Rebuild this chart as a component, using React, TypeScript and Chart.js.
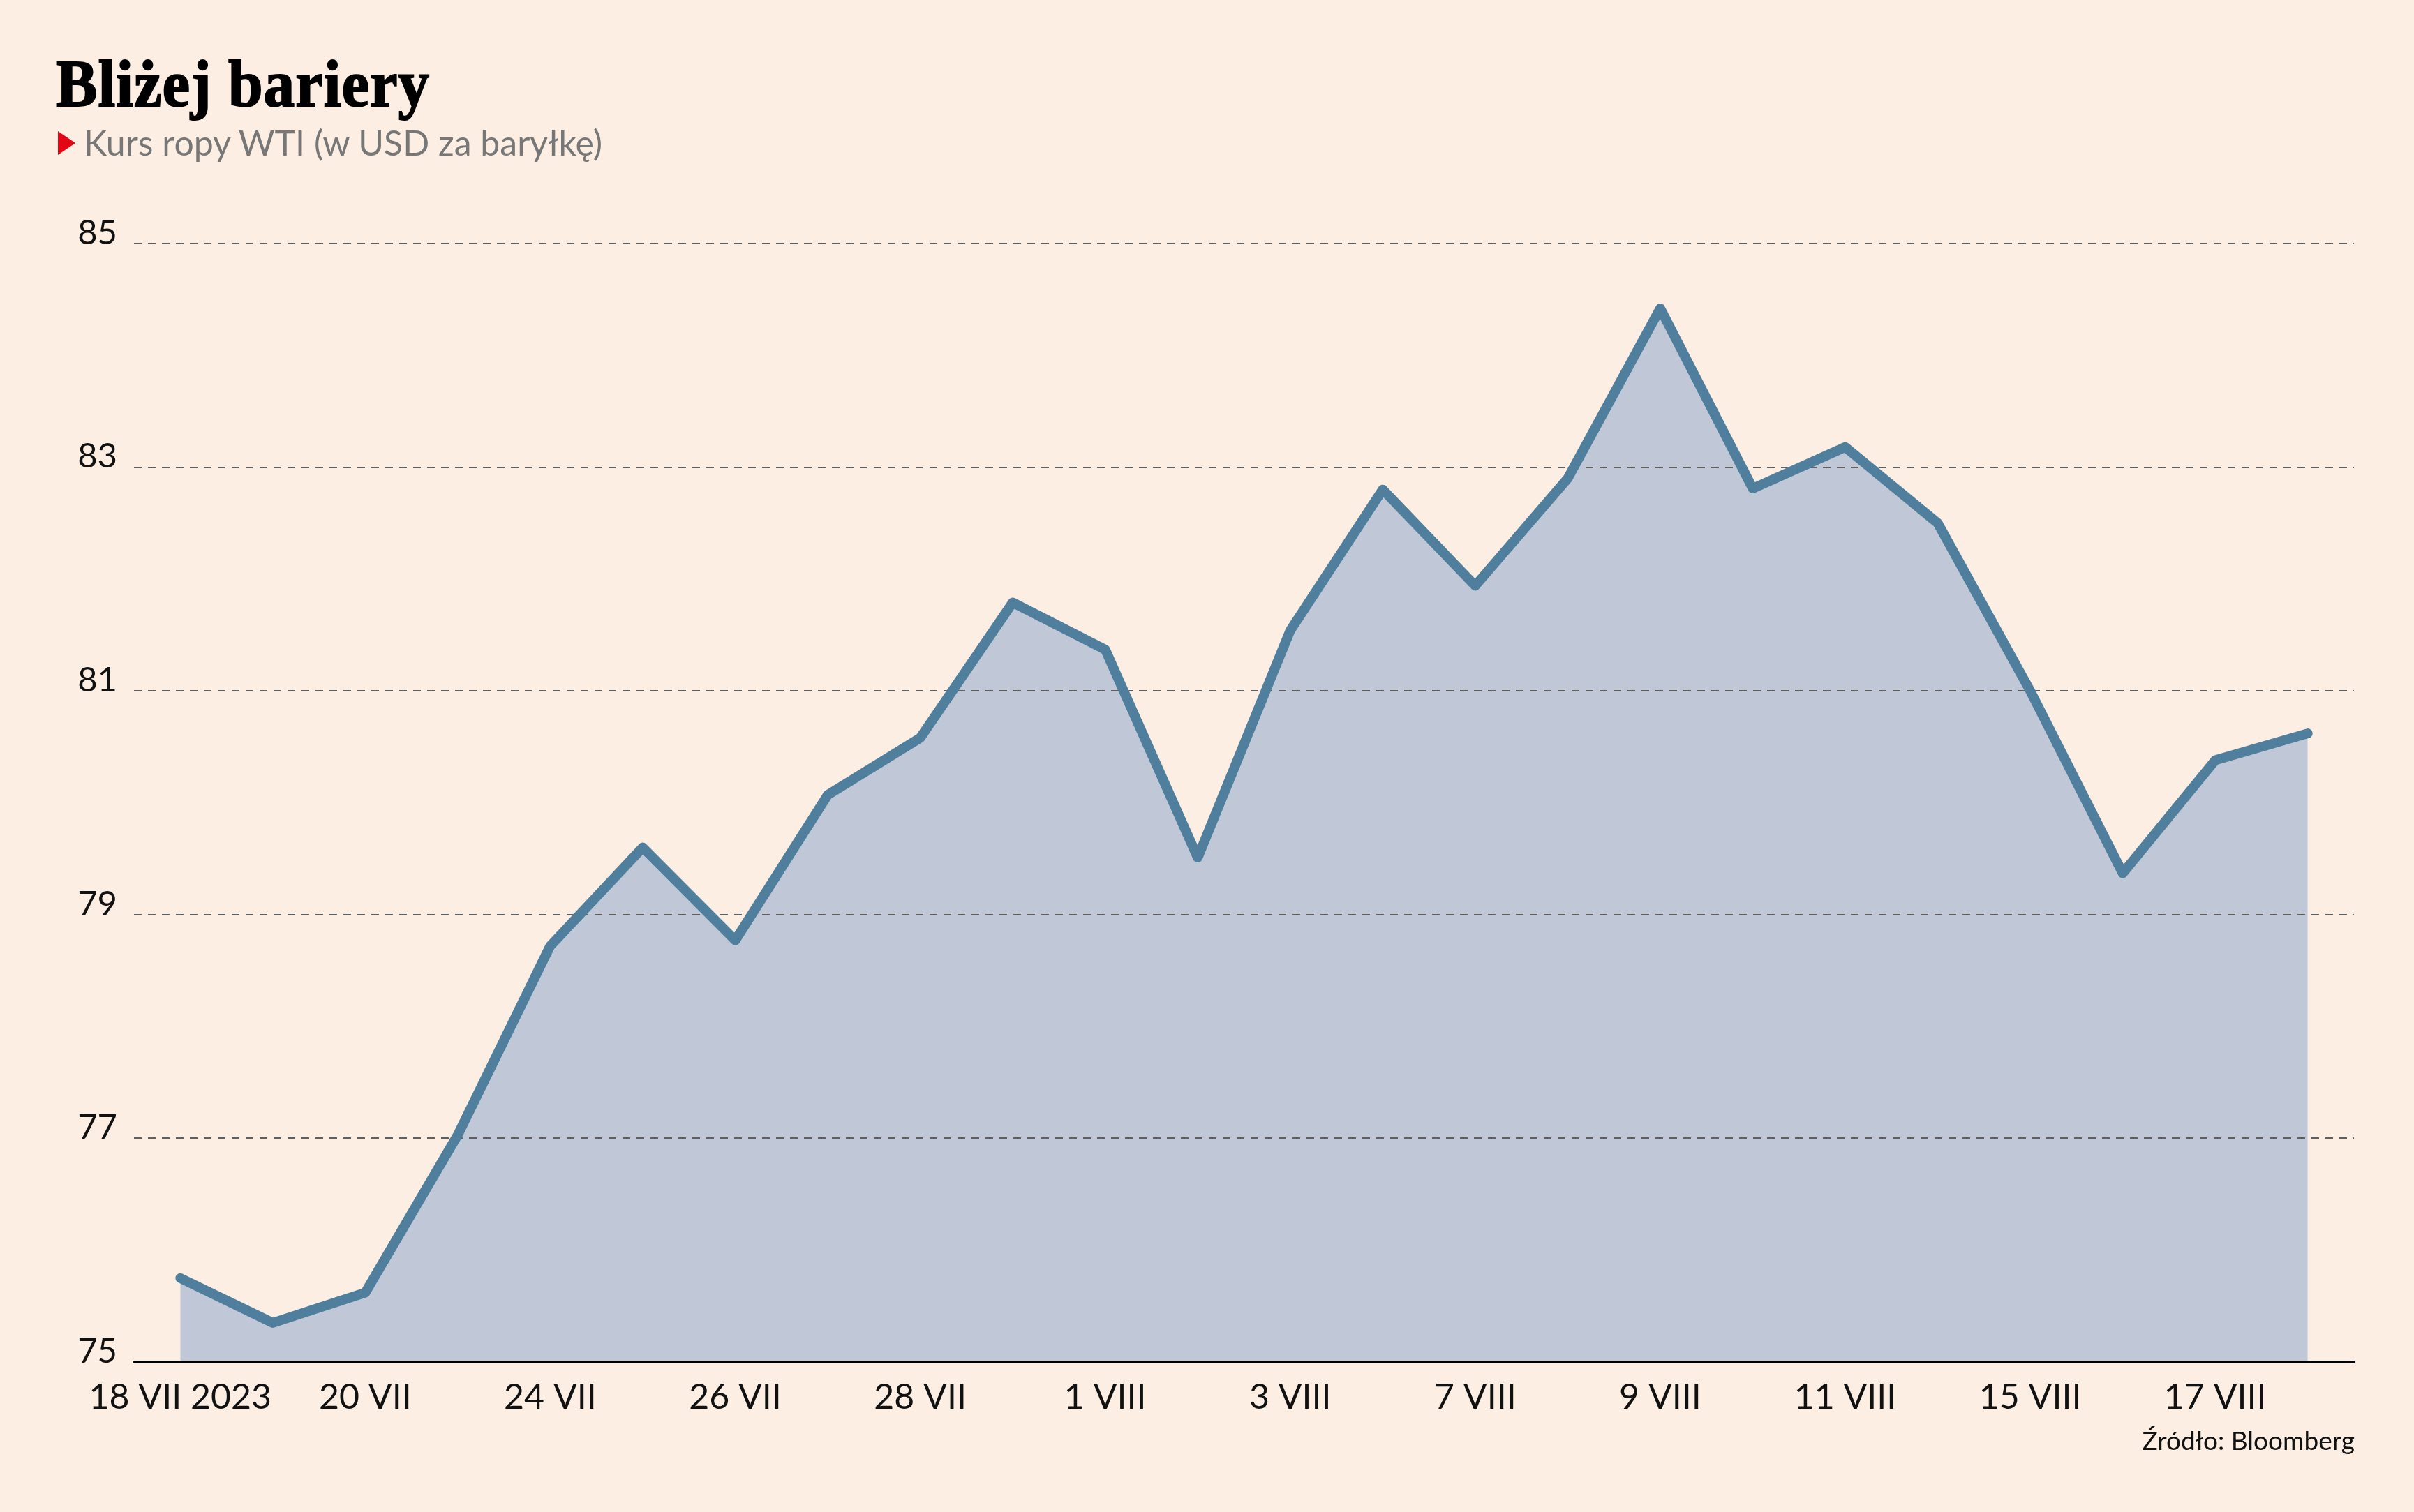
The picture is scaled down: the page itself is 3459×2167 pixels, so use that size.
import React, { useEffect, useRef } from "react";
import { Chart, registerables } from "chart.js";

Chart.register(...registerables);

const dates = [
  "18 VII 2023", "19 VII", "20 VII", "21 VII", "24 VII", "25 VII", "26 VII", "27 VII",
  "28 VII", "31 VII", "1 VIII", "2 VIII", "3 VIII", "4 VIII", "7 VIII", "8 VIII",
  "9 VIII", "10 VIII", "11 VIII", "14 VIII", "15 VIII", "16 VIII", "17 VIII", "18 VIII",
];
const prices = [
  75.75, 75.35, 75.62, 77.03, 78.72, 79.6, 78.77, 80.07,
  80.58, 81.79, 81.37, 79.51, 81.54, 82.8, 81.94, 82.9,
  84.42, 82.81, 83.18, 82.5, 81.0, 79.37, 80.38, 80.62,
];
const yTicks = [75, 77, 79, 81, 83, 85];

const TITLE = "Bliżej bariery";
const SUBTITLE = "Kurs ropy WTI (w USD za baryłkę)";
const SOURCE = "Źródło: Bloomberg";

const W = 3459;
const H = 2167;

const dashedGrid = {
  id: "dashedGrid",
  afterDatasetDraw(chart: any, args: any) {
    if (args.index !== 1) return;
    const y = chart.scales.y;
    const { left, right } = chart.chartArea;
    const ctx = chart.ctx;
    ctx.save();
    ctx.setLineDash([11, 9]);
    ctx.lineWidth = 2;
    ctx.strokeStyle = "#5f5f5f";
    yTicks.forEach((v) => {
      if (v === yTicks[0]) return;
      const py = Math.round(y.getPixelForValue(v));
      ctx.beginPath();
      ctx.moveTo(left, py);
      ctx.lineTo(right, py);
      ctx.stroke();
    });
    ctx.restore();
  },
};

export default function App() {
  const ref = useRef<HTMLCanvasElement | null>(null);

  useEffect(() => {
    document.body.style.margin = "0";
    const canvas = ref.current!;
    const chart = new Chart(canvas, {
      type: "line",
      data: {
        labels: dates,
        datasets: [
          {
            data: prices,
            borderColor: "#4F7F9C",
            borderWidth: 14,
            borderCapStyle: "round",
            borderJoinStyle: "round",
            pointRadius: 0,
            fill: false,
            tension: 0,
          },
          {
            data: prices,
            borderWidth: 0,
            backgroundColor: "#C0C7D6",
            pointRadius: 0,
            fill: "start",
            tension: 0,
          },
        ],
      },
      options: {
        responsive: false,
        animation: false,
        devicePixelRatio: 1,
        layout: { padding: { left: 0, right: 86, top: 349, bottom: 115 } },
        plugins: { legend: { display: false }, tooltip: { enabled: false } },
        scales: {
          x: {
            offset: true,
            grid: { display: false, drawTicks: false },
            border: { display: true, color: "#000000", width: 4, z: 2 },
            ticks: {
              autoSkip: false,
              maxRotation: 0,
              padding: 21,
              color: "#111111",
              font: { family: "Lato", size: 50 },
              callback: (_v: any, i: number) => (i % 2 === 0 ? dates[i] : ""),
            },
            afterFit: (s: any) => {
              s.height = 100;
            },
          },
          y: {
            min: 75,
            max: 85,
            grid: { display: false, drawTicks: false },
            border: { display: false },
            afterBuildTicks: (s: any) => {
              s.ticks = yTicks.map((v) => ({ value: v }));
            },
            ticks: {
              padding: 24,
              labelOffset: -15,
              color: "#111111",
              font: { family: "Lato", size: 49 },
            },
            afterFit: (s: any) => {
              s.width = 192;
            },
          },
        },
      },
      plugins: [dashedGrid],
    });
    return () => chart.destroy();
  }, []);

  return (
    <div style={{ position: "relative", width: W, height: H, background: "#FCEEE2", overflow: "hidden" }}>
      <canvas ref={ref} width={W} height={H} style={{ position: "absolute", left: 0, top: 0, width: W, height: H }} />
      <div
        style={{
          position: "absolute",
          left: 80,
          top: 72,
          fontFamily: '"Liberation Serif", serif',
          fontWeight: 700,
          fontSize: 96,
          lineHeight: 1,
          color: "#000",
          whiteSpace: "nowrap",
          letterSpacing: 1,
          WebkitTextStroke: "2px #000",
          transform: "scaleX(0.93)",
          transformOrigin: "left top",
        }}
      >
        {TITLE}
      </div>
      <div
        style={{
          position: "absolute",
          left: 83,
          top: 188,
          width: 0,
          height: 0,
          borderTop: "17px solid transparent",
          borderBottom: "17px solid transparent",
          borderLeft: "25px solid #E30613",
        }}
      />
      <div
        style={{
          position: "absolute",
          left: 120,
          top: 179,
          fontFamily: "Lato, sans-serif",
          fontSize: 50,
          lineHeight: 1,
          color: "#777777",
          whiteSpace: "nowrap",
        }}
      >
        {SUBTITLE}
      </div>
      <div
        style={{
          position: "absolute",
          right: 85,
          top: 2045,
          fontFamily: "Lato, sans-serif",
          fontSize: 37,
          lineHeight: 1,
          color: "#111111",
          whiteSpace: "nowrap",
        }}
      >
        {SOURCE}
      </div>
    </div>
  );
}
